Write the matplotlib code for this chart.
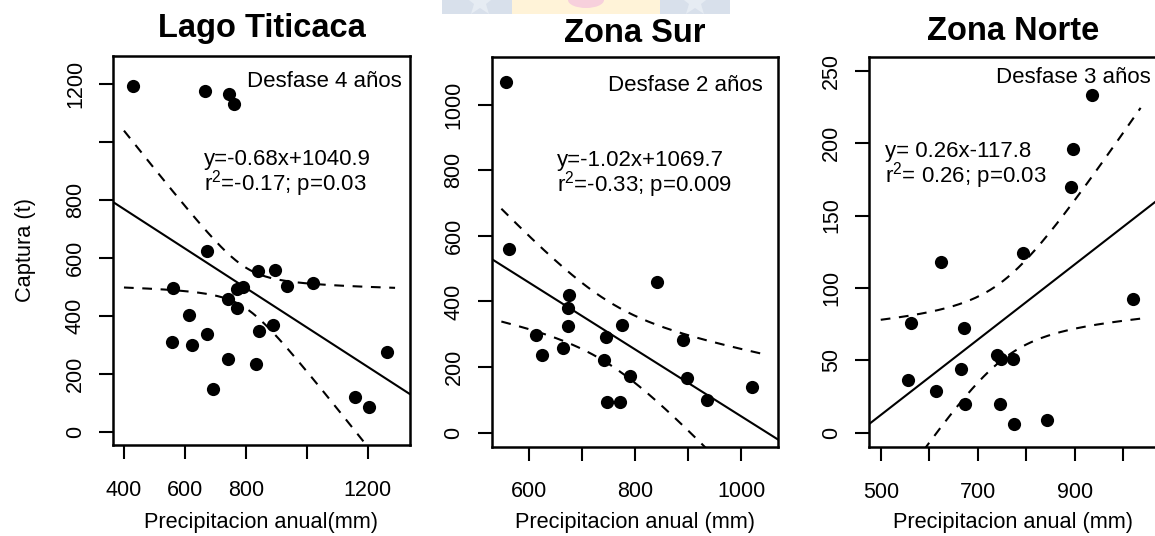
import numpy as np
import matplotlib
matplotlib.use("Agg")
import matplotlib.pyplot as plt
from matplotlib.patches import Rectangle, Ellipse
from matplotlib.lines import Line2D

plt.rcParams.update({
    "font.family": ["Liberation Sans", "DejaVu Sans"],
    "mathtext.fontset": "custom",
    "mathtext.rm": "Liberation Sans",
    "mathtext.it": "Liberation Sans",
    "mathtext.bf": "Liberation Sans:bold",
    "lines.scale_dashes": False,
})

W, H, DPI = 1155, 536, 100

# ---------------- Lago Titicaca (desfase 4 años) ----------------
titicaca_prec = [430, 665, 744, 760, 672, 841, 897, 561, 772, 792, 935, 1019, 742,
                 772, 613, 557, 624, 674, 842, 890, 742, 834, 691, 1264, 1160, 1206]
titicaca_capt = [1195, 1177, 1165, 1131, 623, 556, 558, 497, 493, 501, 502, 513, 458,
                 429, 403, 309, 300, 337, 348, 370, 252, 234, 148, 276, 122, 87]
titicaca_fit = (-0.68, 1040.9)          # slope, intercept
titicaca_r2, titicaca_p = -0.17, "0.03"
titicaca_band = (796, 70, 0.66)         # centre, half-width at centre, asymptotic spread
titicaca_xticks = [400, 600, 800, 1000, 1200]
titicaca_xticklabels = ["400", "600", "800", "", "1200"]
titicaca_yticks = [0, 200, 400, 600, 800, 1000, 1200]
titicaca_yticklabels = ["0", "200", "400", "600", "800", "", "1200"]

# ---------------- Zona Sur (desfase 2 años) ----------------
sur_prec = [557, 563, 842, 675, 673, 673, 775, 614, 746, 890, 665, 625, 741, 791,
            897, 1021, 747, 772, 936]
sur_capt = [1069, 559, 459, 421, 379, 325, 329, 298, 293, 283, 259, 236, 221, 172,
            168, 140, 93, 93, 99]
sur_fit = (-1.02, 1069.7)
sur_r2, sur_p = -0.33, "0.009"
sur_band = (747, 95, 0.72)
sur_xticks = [600, 700, 800, 900, 1000]
sur_xticklabels = ["600", "", "800", "", "1000"]
sur_yticks = [0, 200, 400, 600, 800, 1000]
sur_yticklabels = ["0", "200", "400", "600", "800", "1000"]

# ---------------- Zona Norte (desfase 3 años) ----------------
norte_prec = [936, 897, 892, 793, 625, 1020, 562, 671, 740, 748, 772, 665, 557, 614,
              674, 745, 775, 842]
norte_capt = [233, 196, 170, 124, 118, 92, 75.5, 72, 53.5, 51, 51, 44, 36.6, 29,
              20, 20, 6, 9]
norte_fit = (0.26, -117.8)
norte_r2, norte_p = 0.26, "0.03"
norte_band = (752, 27, 0.238)
norte_xticks = [500, 600, 700, 800, 900, 1000]
norte_xticklabels = ["500", "", "700", "", "900", ""]
norte_yticks = [0, 50, 100, 150, 200, 250]
norte_yticklabels = ["0", "50", "100", "150", "200", "250"]

TICK_FS = 15.5
TEXT_FS = 16
LABEL_FS = 15.7
TITLE_FS = 23.5

fig = plt.figure(figsize=(W / DPI, H / DPI), dpi=DPI)
fig.patch.set_facecolor("white")

# faint banner at the top centre
banner = [((442, 512), "#d8e0eb"), ((512, 660), "#fff3d8"), ((660, 730), "#d8e0eb")]
for (x0, x1), col in banner:
    fig.add_artist(Rectangle((x0 / W, 1 - 14 / H), (x1 - x0) / W, 14 / H,
                             transform=fig.transFigure, facecolor=col,
                             edgecolor="none", zorder=0))
fig.add_artist(Ellipse((586 / W, 1.0), 36 / W, 16 / H, transform=fig.transFigure,
                       facecolor="#f7d0dc", edgecolor="none", zorder=0.5))
for sx in (480, 695):
    fig.add_artist(Line2D([sx / W], [1 - 2 / H], transform=fig.transFigure,
                          marker="*", markersize=22, color="#e6ecf3",
                          markeredgewidth=0, zorder=0.6))


def px_box(left, top, right, bottom):
    return [left / W, 1 - bottom / H, (right - left) / W, (bottom - top) / H]


def draw_panel(ax, prec, capt, fit, r2, p, band, band_x, title, title_y,
               xlabel, xlabel_y, xticks, xticklabels, yticks, yticklabels,
               xlim, ylim, lag_text, lag_xy, eq_x, eq_y_last, ylabel=None):
    slope, intercept = fit
    xc, h0, k = band

    # regression line across the whole panel
    xl = np.array(xlim)
    ax.plot(xl, slope * xl + intercept, color="black", lw=1.5, zorder=2)

    # confidence band
    xs = np.linspace(band_x[0], band_x[1], 300)
    yhat = slope * xs + intercept
    hw = np.sqrt(h0 ** 2 + (k * (xs - xc)) ** 2)
    for sgn in (1, -1):
        ax.plot(xs, yhat + sgn * hw, color="black", lw=1.5,
                linestyle=(0, (7.0, 6.2)), zorder=2)

    ax.plot(prec, capt, "o", color="black", markersize=9.5,
            markeredgewidth=0, zorder=3)

    ax.set_xlim(xlim)
    ax.set_ylim(ylim)
    ax.set_xticks(xticks)
    ax.set_xticklabels(xticklabels)
    ax.set_yticks(yticks)
    ax.set_yticklabels(yticklabels)
    ax.tick_params(axis="both", direction="out", length=10, width=1.5,
                   labelsize=TICK_FS, color="black")
    ax.tick_params(axis="x", pad=15)
    ax.tick_params(axis="y", pad=9.5, labelrotation=90)
    for lab in ax.get_yticklabels():
        lab.set_va("center")
    for sp in ax.spines.values():
        sp.set_linewidth(1.8)

    ax.text(0.5, title_y, title, transform=ax.transAxes, ha="center",
            va="baseline", fontsize=TITLE_FS, fontweight="bold")
    ax.text(0.5, xlabel_y, xlabel, transform=ax.transAxes, ha="center",
            va="center", fontsize=LABEL_FS)
    if ylabel:
        ax.text(-0.296, 0.5, ylabel, transform=ax.transAxes, ha="center",
                va="center", rotation=90, fontsize=LABEL_FS)

    ax.text(lag_xy[0], lag_xy[1], lag_text, ha="right", va="baseline",
            fontsize=TEXT_FS)
    eq_text = (f"y={slope: .2f}x{intercept:+.1f}\n"
               + r"r$^{2}$" + f"={r2: .2f}; p={p}")
    ax.text(eq_x, eq_y_last, eq_text, ha="left", va="baseline",
            fontsize=TEXT_FS, linespacing=0.92)


ax1 = fig.add_axes(px_box(113, 56, 410, 445))
draw_panel(ax1, titicaca_prec, titicaca_capt, titicaca_fit, titicaca_r2, titicaca_p,
           titicaca_band, (400, 1290), "Lago Titicaca", 1.0496,
           "Precipitacion anual(mm)", -0.2005,
           titicaca_xticks, titicaca_xticklabels, titicaca_yticks, titicaca_yticklabels,
           (364, 1339), (-45, 1297), "Desfase 4 años", (1313, 1188.6),
           663, 832, ylabel="Captura (t)")

ax2 = fig.add_axes(px_box(491.7, 56.7, 778.3, 446.7))
draw_panel(ax2, sur_prec, sur_capt, sur_fit, sur_r2, sur_p,
           sur_band, (548, 1037), "Zona Sur", 1.0385,
           "Precipitacion anual (mm)", -0.1956,
           sur_xticks, sur_xticklabels, sur_yticks, sur_yticklabels,
           (529.8, 1069.7), (-42.7, 1146), "Desfase 2 años", (1040, 1042.7),
           652, 735)

ax3 = fig.add_axes(px_box(869.3, 56.7, 1156.5, 447.3))
draw_panel(ax3, norte_prec, norte_capt, norte_fit, norte_r2, norte_p,
           norte_band, (500, 1036), "Zona Norte", 1.0428,
           "Precipitacion anual (mm)", -0.1938,
           norte_xticks, norte_xticklabels, norte_yticks, norte_yticklabels,
           (476.4, 1068.8), (-10.1, 259.7), "Desfase 3 años", (1056.4, 241.7),
           508.9, 172.7)

fig.savefig("out.png", dpi=DPI, facecolor="white")
